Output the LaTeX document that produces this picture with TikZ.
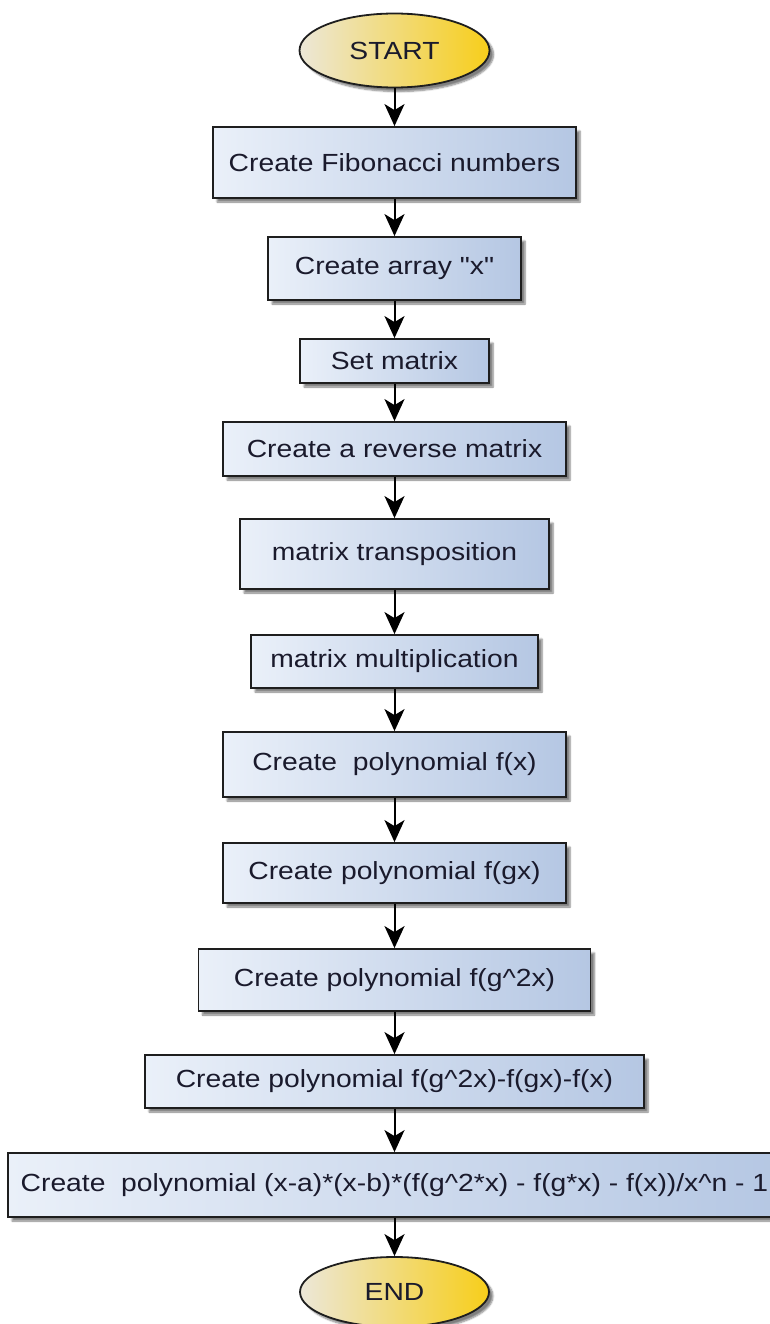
\documentclass[tikz,border=0pt]{standalone}
\usepackage{fontspec}
\newfontfamily\lib{Liberation Sans}[FakeStretch=1.14]
\usetikzlibrary{arrows.meta,shapes.geometric,shadows.blur}
\definecolor{boxL}{HTML}{EAF0F9}
\definecolor{boxR}{HTML}{B5C7E3}
\definecolor{ellL}{HTML}{ECE7D8}
\definecolor{ellR}{HTML}{F7CE1A}
\definecolor{edge}{HTML}{1E1E1E}
\definecolor{txt}{HTML}{1A1A2C}
\tikzset{
  base/.style={draw=edge, line width=1.8pt, inner sep=0pt, text=txt,
    font=\lib\fontsize{24.8pt}{29pt}\selectfont,
    blur shadow={shadow xshift=4pt, shadow yshift=-4pt, shadow blur steps=6, shadow opacity=50}},
  procbox/.style={base, rectangle, left color=boxL, right color=boxR},
  terminal/.style={base, ellipse, left color=ellL, right color=ellR},
  arr/.style={draw=black, line width=2pt, -{Stealth[length=22pt, width=20pt, inset=6pt]}}
}
\begin{document}
\begin{tikzpicture}[x=1pt, y=-1pt]
\useasboundingbox (0,0) rectangle (769,1324);
\node[terminal, minimum width=190pt, minimum height=74pt] (s) at (394.5,50.5) {START};
\node[procbox, minimum width=363pt, minimum height=71pt] (b1) at (394.5,162.5) {Create Fibonacci numbers};
\node[procbox, minimum width=253pt, minimum height=63pt] (b2) at (394.5,268.5) {Create array "x"};
\node[procbox, minimum width=189pt, minimum height=44pt] (b3) at (394.5,361) {Set matrix};
\node[procbox, minimum width=343pt, minimum height=54pt] (b4) at (394.5,449) {Create a reverse matrix};
\node[procbox, minimum width=309pt, minimum height=70pt] (b5) at (394.5,554) {matrix transposition};
\node[procbox, minimum width=287pt, minimum height=53pt] (b6) at (394.5,661.5) {matrix multiplication};
\node[procbox, minimum width=343pt, minimum height=65pt] (b7) at (394.5,764.5) {Create\ \ polynomial f(x)};
\node[procbox, minimum width=343pt, minimum height=60pt] (b8) at (394.5,873) {Create polynomial f(gx)};
\node[procbox, minimum width=392pt, minimum height=62pt] (b9) at (394.5,980) {Create polynomial f(g\textasciicircum 2x)};
\node[procbox, minimum width=499pt, minimum height=53pt] (b10) at (394.5,1081.5) {Create polynomial f(g\textasciicircum 2x)-f(gx)-f(x)};
\node[procbox, minimum width=773pt, minimum height=64pt] (b11) at (394.5,1185) {Create\ \ polynomial (x-a)*(x-b)*(f(g\textasciicircum 2*x) - f(g*x) - f(x))/x\textasciicircum n - 1};
\node[terminal, minimum width=189pt, minimum height=70pt] (e) at (394.5,1292) {END};
\draw[arr] (s) -- (b1);
\draw[arr] (b1) -- (b2);
\draw[arr] (b2) -- (b3);
\draw[arr] (b3) -- (b4);
\draw[arr] (b4) -- (b5);
\draw[arr] (b5) -- (b6);
\draw[arr] (b6) -- (b7);
\draw[arr] (b7) -- (b8);
\draw[arr] (b8) -- (b9);
\draw[arr] (b9) -- (b10);
\draw[arr] (b10) -- (b11);
\draw[arr] (b11) -- (e);
\end{tikzpicture}
\end{document}
